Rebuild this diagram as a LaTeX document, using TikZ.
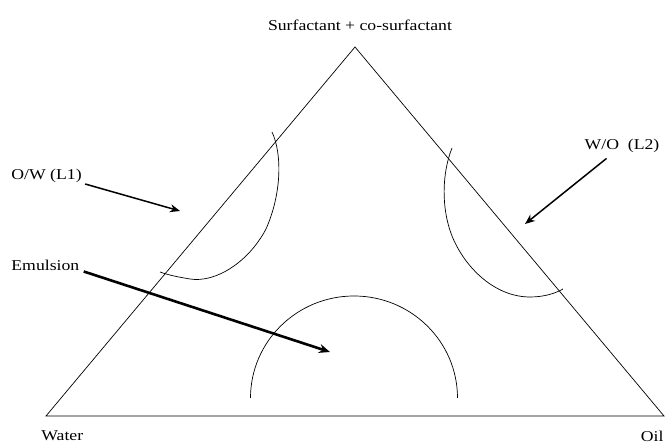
\documentclass[tikz,border=0pt]{standalone}
\usepackage{fontspec}
\setmainfont{Liberation Serif}
\usetikzlibrary{arrows.meta}

\begin{document}
\begin{tikzpicture}[x=1pt, y=1pt,
    every node/.style={font=\fontsize{15}{18}\selectfont, xscale=1.18, inner sep=1pt},
    phase/.style={line width=0.7pt},
    pointer/.style={-{Stealth[length=10pt,width=8pt]}, line width=1.5pt},
    bigpointer/.style={-{Stealth[length=11pt,width=9pt]}, line width=2.6pt}]
  \useasboundingbox (0,0) rectangle (665,443);
  % corners of the triangle
  \coordinate (water) at (46,27);
  \coordinate (oil) at (664,27);
  \coordinate (surf) at (355,396);
  \draw[phase] (water) -- (surf) -- (oil) -- cycle;

  \node (surflbl) at (360,418) {Surfactant + co-surfactant};
  \node[anchor=west] (waterlbl) at (40,7) {Water};
  \node[anchor=east] (oillbl) at (665,7) {Oil};

  % phase regions
  \draw[phase] (272,311) .. controls (282,290) and (282,250) .. (266,214)
    .. controls (248,180) and (215,160) .. (190,164)
    .. controls (178,166) and (168,168) .. (160,171);
  \draw[phase] (452,295) .. controls (442,270) and (441,235) .. (452,207)
    .. controls (465,175) and (495,146) .. (530,146)
    .. controls (545,146) and (556,150) .. (563,154);
  \draw[phase] (250.5,45) arc[start angle=180, end angle=0, x radius=103.5pt, y radius=102pt];

  \node[anchor=west] (ow) at (10,267) {O/W (L1)};
  \node (wo) at (622,297) {W/O\ \ (L2)};
  \node[anchor=west] (emul) at (10,178) {Emulsion};
  \coordinate (owhead) at (180,232);
  \coordinate (wohead) at (525,219);
  \coordinate (emulhead) at (330,91);
  \draw[pointer] ([xshift=2pt]ow.south east) -- (owhead);
  \draw[pointer, shorten <=7pt] (wo) -- (wohead);
  \draw[bigpointer] ([xshift=3pt]emul.south east) -- (emulhead);
\end{tikzpicture}
\end{document}
